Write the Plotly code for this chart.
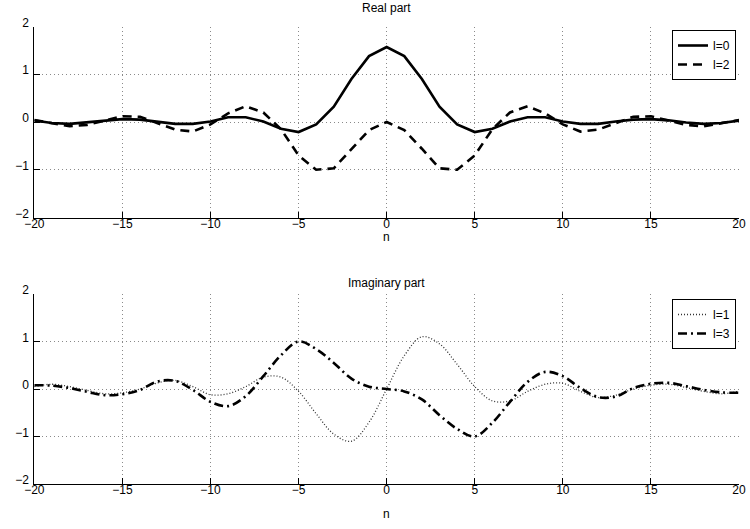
import plotly.graph_objects as go

n = list(range(-20, 21))

real_l0 = [0.03, -0.02, -0.04, -0.01, 0.035, 0.06, 0.05, 0.01, -0.04, -0.04, 0.01, 0.10, 0.10, 0.01, -0.14, -0.21, -0.05, 0.32, 0.90, 1.38,
           1.57,
           1.38, 0.90, 0.32, -0.05, -0.21, -0.14, 0.01, 0.10, 0.10, 0.01, -0.04, -0.04, 0.01, 0.05, 0.06, 0.035, -0.01, -0.04, -0.02, 0.03]

real_l2 = [0.04, -0.03, -0.09, -0.06, 0.03, 0.12, 0.11, -0.02, -0.16, -0.20, -0.05, 0.18, 0.33, 0.20, -0.15, -0.70, -1.0, -0.97, -0.56, -0.17,
           0.0,
           -0.17, -0.56, -0.97, -1.0, -0.70, -0.15, 0.20, 0.33, 0.18, -0.05, -0.20, -0.16, -0.02, 0.11, 0.12, 0.03, -0.06, -0.09, -0.03, 0.04]

imag_l1 = [0.05, 0.10, 0.05, -0.03, -0.10, -0.08, 0.0, 0.13, 0.18, 0.05, -0.12, -0.10, 0.05, 0.25, 0.25, -0.05, -0.52, -0.95, -1.10, -0.70,
           0.0,
           0.70, 1.10, 0.95, 0.52, 0.05, -0.25, -0.25, -0.05, 0.10, 0.12, -0.05, -0.18, -0.13, 0.0, 0.08, 0.10, 0.03, -0.05, -0.10, -0.05]

imag_l3 = [0.08, 0.07, 0.02, -0.06, -0.13, -0.11, -0.02, 0.16, 0.17, -0.02, -0.27, -0.36, -0.15, 0.27, 0.71, 1.0, 0.84, 0.55, 0.22, 0.05,
           0.0,
           -0.05, -0.22, -0.55, -0.84, -1.0, -0.71, -0.27, 0.15, 0.36, 0.27, 0.02, -0.17, -0.16, 0.02, 0.11, 0.13, 0.06, -0.02, -0.07, -0.08]

xticks = [-20, -15, -10, -5, 0, 5, 10, 15, 20]
yticks = [-2, -1, 0, 1, 2]
titles = ["Real part", "Imaginary part"]
xlabel = "n"

W, H = 750, 529
FONT = "Liberation Sans, Arial, sans-serif"

fig = go.Figure()
fig.add_trace(go.Scatter(x=n, y=real_l0, mode="lines", name="l=0",
                         line=dict(color="black", width=2.6),
                         xaxis="x", yaxis="y", legend="legend"))
fig.add_trace(go.Scatter(x=n, y=real_l2, mode="lines", name="l=2",
                         line=dict(color="black", width=2.6, dash="9px,6px"),
                         xaxis="x", yaxis="y", legend="legend"))
fig.add_trace(go.Scatter(x=n, y=imag_l1, mode="lines", name="l=1",
                         line=dict(color="#333333", width=1.3, dash="1px,2px", shape="spline"),
                         xaxis="x2", yaxis="y2", legend="legend2"))
fig.add_trace(go.Scatter(x=n, y=imag_l3, mode="lines", name="l=3",
                         line=dict(color="black", width=2.6, dash="9px,4px,2px,4px", shape="spline"),
                         xaxis="x2", yaxis="y2", legend="legend2"))

xdom = [34.3 / W, 739 / W]
top_dom = [1 - 217.5 / H, 1 - 26.5 / H]
bot_dom = [1 - 484 / H, 1 - 294 / H]

common = dict(ticks="inside", ticklen=6, tickcolor="black", tickwidth=1,
              showline=True, linecolor="black", linewidth=1, mirror=False,
              showgrid=True, gridcolor="#8a8a8a", griddash="1px,3px", gridwidth=1,
              zeroline=False, automargin=False,
              tickfont=dict(family=FONT, size=12, color="black"))

fig.update_layout(
    width=W, height=H, autosize=False,
    margin=dict(l=0, r=0, t=0, b=0, pad=0),
    paper_bgcolor="white", plot_bgcolor="white",
    xaxis=dict(domain=xdom, range=[-20, 20], tickvals=xticks, anchor="y",
               ticklabelstandoff=-5, **common),
    yaxis=dict(domain=top_dom, range=[-2, 2], tickvals=yticks, anchor="x",
               ticklabelshift=-4, ticklabelstandoff=2, **common),
    xaxis2=dict(domain=xdom, range=[-20, 20], tickvals=xticks, anchor="y2",
                ticklabelstandoff=-5, **common),
    yaxis2=dict(domain=bot_dom, range=[-2, 2], tickvals=yticks, anchor="x2",
                ticklabelshift=-4, ticklabelstandoff=2, **common),
    legend=dict(x=736 / W, xanchor="right", y=1 - 30 / H, yanchor="top",
                bgcolor="white", bordercolor="black", borderwidth=1,
                font=dict(family=FONT, size=12, color="black"),
                tracegroupgap=0, itemwidth=30),
    legend2=dict(x=736 / W, xanchor="right", y=1 - 299 / H, yanchor="top",
                 bgcolor="white", bordercolor="black", borderwidth=1,
                 font=dict(family=FONT, size=12, color="black"),
                 tracegroupgap=0, itemwidth=30),
    showlegend=True,
)

cx = (xdom[0] + xdom[1]) / 2
annos = [
    (titles[0], 1 - 8 / H),
    (titles[1], 1 - 283 / H),
    (xlabel, 1 - 237 / H),
    (xlabel, 1 - 514 / H),
]
for txt, yy in annos:
    fig.add_annotation(text=txt, x=cx, y=yy, xref="paper", yref="paper",
                       xanchor="center", yanchor="middle", showarrow=False,
                       font=dict(family=FONT, size=12, color="black"))

fig.write_html("out.html")
